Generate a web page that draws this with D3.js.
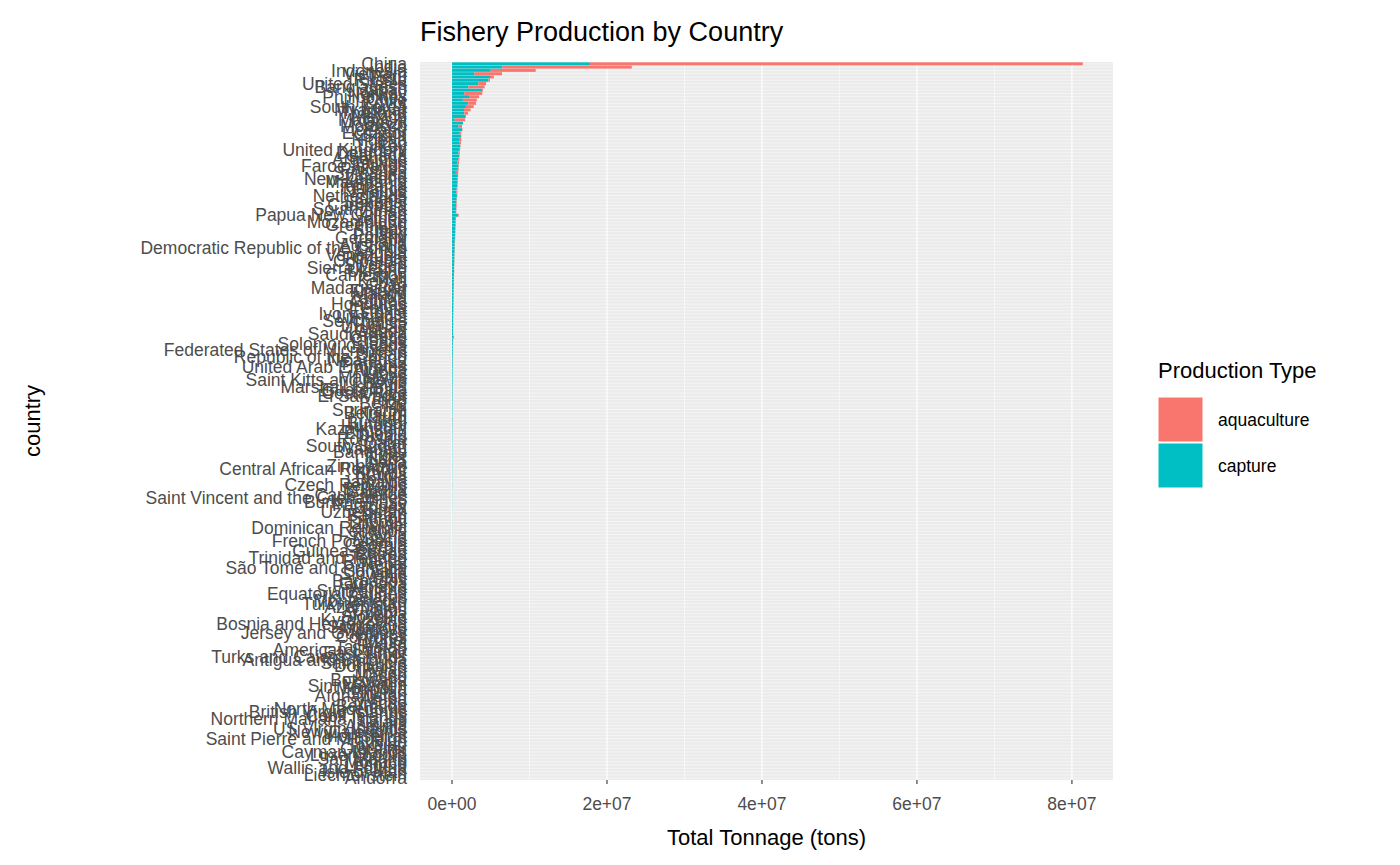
<!DOCTYPE html>
<html><head><meta charset="utf-8">
<script src="https://cdnjs.cloudflare.com/ajax/libs/d3/7.8.5/d3.min.js"></script>
<style>body{margin:0;background:#fff;font-family:"Liberation Sans",Arial,sans-serif;}</style>
</head><body>
<svg id="chart" width="1400" height="865"></svg>
<script>
// countries sorted by total tonnage (top to bottom)
const countries = [
 'China','India','Indonesia','Vietnam','Peru','Russia','United States','Bangladesh','Japan','Norway',
 'Philippines','Chile','Egypt','South Korea','Myanmar','Thailand','Mexico','Malaysia','Brazil','Morocco',
 'Iceland','Ecuador','Spain','Nigeria','Iran','Turkey','United Kingdom','Denmark','Canada','Argentina',
 'Taiwan','Faroe Islands','Pakistan','Sri Lanka','Uganda','New Zealand','Mauritania','Tanzania','France','Namibia',
 'Netherlands','Ghana','Senegal','Cambodia','South Africa','Oman','Papua New Guinea','Yemen','Mozambique','Greenland',
 'Kiribati','Italy','Poland','Germany','Ireland','Australia','Democratic Republic of the Congo','Angola','Venezuela','Portugal',
 'Colombia','Sweden','Sierra Leone','Ukraine','Cameroon','Mali','Kenya','Chad','Madagascar','Finland',
 'Malawi','Zambia','Guinea','Honduras','Latvia','Estonia','Ivory Coast','Lithuania','Seychelles','Tunisia',
 'Uruguay','Gabon','Saudi Arabia','Greece','Croatia','Solomon Islands','Guyana','Federated States of Micronesia','Sudan','Republic of the Congo',
 'Nicaragua','Panama','United Arab Emirates','Algeria','Libya','Maldives','Saint Kitts and Nevis','Benin','Marshall Islands','Guatemala',
 'Costa Rica','El Salvador','Togo','Belize','Fiji','Suriname','Belgium','Nauru','Iraq','Burundi',
 'Hungary','Kazakhstan','Ethiopia','Tuvalu','Romania','Qatar','South Sudan','Vanuatu','Bahamas','Niger',
 'Laos','Liberia','Zimbabwe','Central African Republic','Kuwait','Cuba','Bolivia','Jamaica','Czech Republic','Bulgaria',
 'Gambia','Cape Verde','Saint Vincent and the Grenadines','Burkina Faso','Paraguay','Tonga','Uzbekistan','Bahrain','Samoa','Djibouti',
 'Israel','Dominican Republic','Lebanon','Syria','Austria','French Polynesia','Georgia','Serbia','Guinea-Bissau','Eritrea',
 'Trinidad and Tobago','Rwanda','Nepal','São Tomé and Príncipe','Somalia','Slovenia','Haiti','Barbados','Grenada','Albania',
 'Switzerland','Equatorial Guinea','Belarus','Montenegro','Turkmenistan','Azerbaijan','Cyprus','Armenia','Slovakia','Kyrgyzstan',
 'Bosnia and Herzegovina','Singapore','Moldova','Jersey and Guernsey','Comoros','Brunei','Malta','Tajikistan','American Samoa','East Timor',
 'Turks and Caicos Islands','Antigua and Barbuda','Saint Lucia','Dominica','Palau','Jordan','Macao','Botswana','Eswatini','Sint Maarten',
 'Mongolia','Bhutan','Afghanistan','Aruba','Curacao','Bermuda','North Macedonia','British Virgin Islands','Cook Islands','Northern Mariana Islands',
 'Guam','Anguilla','US Virgin Islands','New Caledonia','Montserrat','Saint Pierre and Miquelon','Niue','Tokelau','Gibraltar','Cayman Islands',
 'Luxembourg','San Marino','Monaco','Lesotho','Wallis and Futuna','Isle of Man','Liechtenstein','Andorra'
];
// thousand tons
const capture = [
 17800,6500,5000,2900,4900,4700,3400,2100,3900,1600,
 2200,1400,2100,1800,1550,1600,1770,350,1420,820,
 1300,900,1150,1000,1000,1050,900,850,950,800,
 700,850,750,500,750,700,650,680,600,550,
 640,600,560,520,550,500,760,480,450,460,
 420,400,400,380,360,340,350,320,300,310,
 290,280,270,260,250,240,235,230,220,210,
 200,195,190,180,175,170,160,155,150,145,
 140,135,130,125,120,115,110,108,105,100,
 95,92,90,87,85,82,80,77,75,72,
 70,68,65,62,60,58,56,54,52,50,
 48,46,44,42,40,38,36,35,34,33,
 32,31,30,29,28,27,26,25,24,23,
 22,21,20,19,18,17,16,15,14,13,
 12,12,11,11,10,10,9,9,8,8,
 7,7,6,6,6,5,5,5,4,4,
 4,4,3,3,3,3,3,2,2,2,
 2,2,2,2,2,1.5,1.5,1.5,1.2,1.2,
 1.2,1,1,1,0.9,0.9,0.8,0.8,0.7,0.7,
 0.6,0.6,0.5,0.5,0.5,0.4,0.4,0.4,0.3,0.3,
 0.3,0.3,0.2,0.2,0.2,0.2,0.15,0.15,0.1,0.1,
 0.1,0.1,0.05,0.05,0.05,0.05,0.02,0.01
];
const aquaculture = [
 63600,16700,5800,3550,500,200,1000,2100,100,2300,
 1300,1800,1000,1000,850,470,30,1330,0,470,
 50,300,50,200,150,50,150,150,20,150,
 200,30,100,300,50,80,100,50,100,150,
 30,50,60,80,30,60,100,40,50,20,
 40,50,20,30,30,40,10,30,40,10,
 20,10,5,30,10,5,15,0,10,15,
 10,20,5,30,5,5,5,5,0,20,
 5,0,10,120,20,0,5,0,0,0,
 30,10,5,5,0,0,0,5,0,10,
 20,5,5,2,2,0,10,0,30,0,
 25,5,5,0,10,0,0,0,0,2,
 0,0,5,0,0,2,1,0,20,5,
 0,0,0,0,1,0,0,0,0,0,
 5,1,1,2,3,0,1,2,0,0,
 0,0,2,0,0,1,0,0,0,1,
 1,0,0,1,0,0,4,1,1,0,
 1,0,0,0,0,0,1,0,0,0,
 0,0,0,0,0,0,0,0,0,0,
 0,0,0,0,0,0,0,0,0,0,
 0,0,0,0,0,0,0,0,0,0,
 0,0,0,0,0,0,0,0
];
const xTicks = [0, 2e7, 4e7, 6e7, 8e7];
const xMinor = [1e7, 3e7, 5e7, 7e7];
const types = ['aquaculture', 'capture'];
const colors = ['#F8766D', '#00BFC4'];

const n = Math.min(countries.length, capture.length, aquaculture.length);
const rows = d3.range(n).map(i => ({
    country: countries[i], capture: capture[i] * 1000, aquaculture: aquaculture[i] * 1000
}));

const svg = d3.select('#chart');
const panel = {left: 420, right: 1113, top: 62, bottom: 780};

const x = d3.scaleLinear().domain([-4.13e6, 8.53e7]).range([panel.left, panel.right]);
const y = d3.scaleBand().domain(rows.map(d => d.country)).range([panel.top, panel.bottom]).padding(0.1);
const color = d3.scaleOrdinal().domain(types).range(colors);

// panel background + grid
svg.append('rect').attr('x', panel.left).attr('y', panel.top)
   .attr('width', panel.right - panel.left).attr('height', panel.bottom - panel.top).attr('fill', '#EBEBEB');
svg.append('g').selectAll('line').data(xMinor).join('line')
   .attr('x1', d => x(d)).attr('x2', d => x(d)).attr('y1', panel.top).attr('y2', panel.bottom)
   .attr('stroke', '#fff').attr('stroke-width', 0.55);
svg.append('g').selectAll('line').data(rows).join('line')
   .attr('x1', panel.left).attr('x2', panel.right)
   .attr('y1', d => y(d.country) + y.bandwidth() / 2).attr('y2', d => y(d.country) + y.bandwidth() / 2)
   .attr('stroke', '#fff').attr('stroke-width', 0.5);
svg.append('g').selectAll('line').data(xTicks).join('line')
   .attr('x1', d => x(d)).attr('x2', d => x(d)).attr('y1', panel.top).attr('y2', panel.bottom)
   .attr('stroke', '#fff').attr('stroke-width', 1.1);

// stacked bars: capture from zero, aquaculture after it
const stack = d3.stack().keys(['capture', 'aquaculture'])(rows);
svg.append('g').selectAll('g').data(stack).join('g')
   .attr('fill', s => color(s.key))
   .selectAll('rect').data(s => s).join('rect')
   .attr('x', d => x(d[0])).attr('width', d => Math.max(0, x(d[1]) - x(d[0])))
   .attr('y', d => y(d.data.country)).attr('height', y.bandwidth());

// y axis labels
svg.append('g').selectAll('text').data(rows).join('text')
   .attr('x', 407).attr('y', d => y(d.country) + y.bandwidth() / 2).attr('dy', '0.35em')
   .attr('text-anchor', 'end').attr('font-size', 17.5).attr('fill', '#4D4D4D')
   .text(d => d.country);

// x axis
const fmt = d => d === 0 ? '0e+00' : d3.format('.0e')(d).replace('e+', 'e+0');
svg.append('g').selectAll('line').data(xTicks).join('line')
   .attr('x1', d => x(d)).attr('x2', d => x(d)).attr('y1', panel.bottom).attr('y2', panel.bottom + 4)
   .attr('stroke', '#333').attr('stroke-width', 1.1);
svg.append('g').selectAll('text').data(xTicks).join('text')
   .attr('x', d => x(d)).attr('y', 810).attr('text-anchor', 'middle')
   .attr('font-size', 17.5).attr('fill', '#4D4D4D').text(fmt);

svg.append('text').attr('x', (panel.left + panel.right) / 2).attr('y', 845)
   .attr('text-anchor', 'middle').attr('font-size', 22).text('Total Tonnage (tons)');
svg.append('text').attr('transform', `translate(40,${(panel.top + panel.bottom) / 2}) rotate(-90)`)
   .attr('text-anchor', 'middle').attr('font-size', 22).text('country');
svg.append('text').attr('x', panel.left).attr('y', 41)
   .attr('font-size', 27).text('Fishery Production by Country');

// legend
const legend = svg.append('g').attr('transform', 'translate(1158,0)');
legend.append('text').attr('x', 0).attr('y', 378).attr('font-size', 22).text('Production Type');
legend.selectAll('rect').data(types).join('rect')
   .attr('x', 0).attr('y', (d, i) => 397 + i * 46).attr('width', 45).attr('height', 45)
   .attr('fill', d => color(d)).attr('stroke', '#fff').attr('stroke-width', 1);
legend.selectAll('.lab').data(types).join('text').attr('class', 'lab')
   .attr('x', 60).attr('y', (d, i) => 420 + i * 46).attr('dy', '0.35em')
   .attr('font-size', 17.5).text(d => d);
</script>
</body></html>
